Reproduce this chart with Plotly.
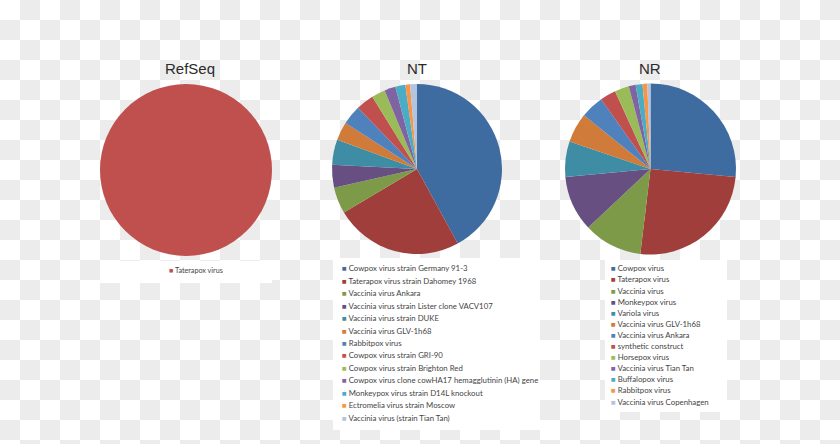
import plotly.graph_objects as go

# ---------------- data ----------------
refseq_labels = ["Taterapox virus"]
refseq_values = [100]

nt_labels = [
    "Cowpox virus strain Germany 91-3",
    "Taterapox virus strain Dahomey 1968",
    "Vaccinia virus Ankara",
    "Vaccinia virus strain Lister clone VACV107",
    "Vaccinia virus strain DUKE",
    "Vaccinia virus GLV-1h68",
    "Rabbitpox virus",
    "Cowpox virus strain GRI-90",
    "Cowpox virus strain Brighton Red",
    "Cowpox virus clone cowHA17 hemagglutinin (HA) gene",
    "Monkeypox virus strain D14L knockout",
    "Ectromelia virus strain Moscow",
    "Vaccinia virus (strain Tian Tan)",
]
nt_values = [42.0, 24.4, 5.0, 4.3, 4.8, 3.5, 3.7, 3.4, 2.6, 2.1, 1.9, 0.9, 1.3]

nr_labels = [
    "Cowpox virus",
    "Taterapox virus",
    "Vaccinia virus",
    "Monkeypox virus",
    "Variola virus",
    "Vaccinia virus GLV-1h68",
    "Vaccinia virus Ankara",
    "synthetic construct",
    "Horsepox virus",
    "Vaccinia virus Tian Tan",
    "Buffalopox virus",
    "Rabbitpox virus",
    "Vaccinia virus Copenhagen",
]
nr_values = [26.5, 25.4, 11.1, 10.5, 6.7, 5.6, 4.4, 3.0, 2.7, 1.3, 1.3, 0.9, 0.6]

palette = [
    "#3f6ca0", "#a03e3c", "#7c9a48", "#674f82", "#3e8da4", "#d17b3a",
    "#4f81bd", "#c0504d", "#9bbb59", "#8064a2", "#4bacc6", "#f79646",
    "#b3c4de",
]
refseq_color = ["#c0504d"]

W, H = 840, 444

def px_x(v):
    return v / W

def px_y(v):
    return 1 - v / H

fig = go.Figure()

# pies: (labels, values, colors, center x, center y, radius) in pixels
pies = [
    ("RefSeq", refseq_labels, refseq_values, refseq_color, 186, 170, 86),
    ("NT", nt_labels, nt_values, palette, 417, 169, 85),
    ("NR", nr_labels, nr_values, palette, 650.5, 169, 85.5),
]

for name, labels, values, colors, cx, cy, r in pies:
    fig.add_trace(go.Pie(
        labels=labels, values=values, name=name,
        marker=dict(colors=colors, line=dict(width=0)),
        sort=False, direction="clockwise", rotation=0,
        textinfo="none", showlegend=False,
        domain=dict(x=[px_x(cx - r), px_x(cx + r)], y=[px_y(cy + r), px_y(cy - r)]),
    ))

shapes = []
# checkerboard background
sq = 20
for i in range(W // sq + 1):
    for j in range(H // sq + 1):
        if (i + j) % 2 == 1:
            shapes.append(dict(type="rect", xref="paper", yref="paper", layer="below",
                               x0=px_x(i * sq), x1=px_x(min((i + 1) * sq, W)),
                               y0=px_y(min((j + 1) * sq, H)), y1=px_y(j * sq),
                               fillcolor="#ececec", line=dict(width=0)))
# white legend boxes
for (x0, y0, x1, y1) in [(100, 261, 272, 283), (333, 258, 540, 430), (605, 260, 727, 412)]:
    shapes.append(dict(type="rect", xref="paper", yref="paper", layer="below",
                       x0=px_x(x0), x1=px_x(x1), y0=px_y(y1), y1=px_y(y0),
                       fillcolor="#ffffff", line=dict(width=0)))

annotations = []
# titles
for text, x in [("RefSeq", 190), ("NT", 417), ("NR", 650)]:
    annotations.append(dict(text=text, x=px_x(x), y=px_y(68), xref="paper", yref="paper",
                            xanchor="center", yanchor="middle", showarrow=False,
                            font=dict(family="Liberation Sans, Arial, sans-serif", size=15, color="#2a2a2a")))

# legends
legends = [
    (refseq_labels, refseq_color, 167, 270.7, 0, 7.2),
    (nt_labels, palette, 340, 268.3, 12.45, 7.8),
    (nr_labels, palette, 609, 268.3, 11.1, 7.8),
]
for labels, colors, lx, ly, step, fs in legends:
    for k, (lab, col) in enumerate(zip(labels, colors)):
        annotations.append(dict(
            text=f"<span style='color:{col}'>■</span> {lab}",
            x=px_x(lx), y=px_y(ly + k * step), xref="paper", yref="paper",
            xanchor="left", yanchor="middle", showarrow=False,
            font=dict(family="Lato, Liberation Sans, sans-serif", size=fs, color="#444444"),
        ))

fig.update_layout(
    width=W, height=H, margin=dict(l=0, r=0, t=0, b=0),
    paper_bgcolor="#ffffff", plot_bgcolor="#ffffff",
    shapes=shapes, annotations=annotations,
)

fig.write_html("out.html", config={"displayModeBar": False})
